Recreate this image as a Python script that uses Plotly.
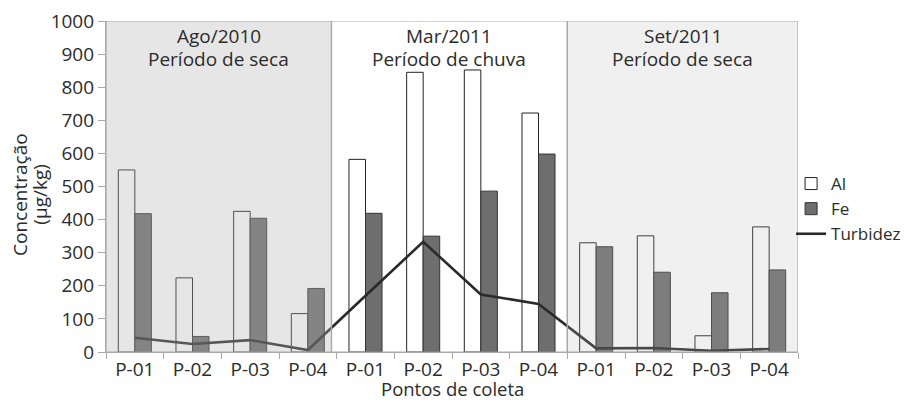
import plotly.graph_objects as go

points = ["P-01", "P-02", "P-03", "P-04"]
period_dates = ["Ago/2010", "Mar/2011", "Set/2011"]
period_names = ["Período de seca", "Período de chuva", "Período de seca"]
al = [550, 224, 425, 116, 582, 845, 852, 722, 330, 351, 49, 378]
fe = [418, 47, 404, 192, 419, 350, 486, 598, 318, 241, 179, 248]
turbidez = [43, 24, 36, 6, 170, 333, 174, 145, 11, 12, 4, 9]
y_ticks = [0, 100, 200, 300, 400, 500, 600, 700, 800, 900, 1000]
y_title = ["Concentração", "(µg/kg)"]

n = len(al)
xs = list(range(n))
labels = points * 3

FONT = "Open Sans"
TXT = "#2b2b2b"

fig = go.Figure()
fig.add_trace(go.Bar(x=xs, y=al, name="Al", marker=dict(color="white", line=dict(color="#222", width=1))))
fig.add_trace(go.Bar(x=xs, y=fe, name="Fe", marker=dict(color="#6e6e6e", line=dict(color="#333", width=1))))
fig.add_trace(go.Scatter(x=xs, y=turbidez, name="Turbidez", mode="lines",
                         line=dict(color="#2a2a2a", width=2.6)))
# invisible helper trace for the boundary tick axis
fig.add_trace(go.Scatter(x=[-0.5, n - 0.5], y=[None, None], xaxis="x2", showlegend=False,
                         hoverinfo="skip"))

# panels (semi-transparent overlays like the original)
panel_bounds = [(-0.5, 3.41), (3.41, 7.5), (7.5, n - 0.5)]
panel_fill = ["rgba(179,179,179,0.33)", "rgba(255,255,255,0)", "rgba(185,185,185,0.21)"]
for (x0, x1), fill, d, nm in zip(panel_bounds, panel_fill, period_dates, period_names):
    fig.add_shape(type="rect", xref="x", yref="y", x0=x0, x1=x1, y0=0, y1=1000,
                  fillcolor=fill, line=dict(color="#a9a9a9", width=1.2), layer="above")
    fig.add_annotation(x=(x0 + x1) / 2, y=1000, xref="x", yref="y", yanchor="middle", yshift=-15,
                       text=d, showarrow=False, font=dict(family=FONT, size=19, color=TXT))
    fig.add_annotation(x=(x0 + x1) / 2, y=1000, xref="x", yref="y", yanchor="middle", yshift=-38,
                       text=nm, showarrow=False, font=dict(family=FONT, size=19, color=TXT))

fig.add_annotation(x=0.5, y=-0.154, xref="paper", yref="paper", yanchor="bottom",
                   text="Pontos de coleta", showarrow=False, font=dict(family=FONT, size=18.5, color=TXT))
for xp, t in zip([-0.1245, -0.0945], y_title):
    fig.add_annotation(x=xp, y=0.477, xref="paper", yref="paper", xanchor="center", yanchor="middle",
                       textangle=-90, text=t, showarrow=False,
                       font=dict(family=FONT, size=19, color=TXT))

fig.update_layout(
    width=910, height=403,
    margin=dict(l=106, r=112, t=21, b=51, autoexpand=False),
    paper_bgcolor="white", plot_bgcolor="white",
    barmode="group", bargap=0.427, bargroupgap=0,
    font=dict(family=FONT, size=19, color=TXT),
    showlegend=True,
    legend=dict(x=0.99, y=0.432, xanchor="left", yanchor="middle", font=dict(size=17),
                bgcolor="rgba(0,0,0,0)", tracegroupgap=0, itemwidth=30),
    xaxis=dict(range=[-0.5, n - 0.5], tickvals=xs, ticktext=labels, ticks="", showgrid=False,
               zeroline=False, showline=True, linecolor="#a9a9a9", linewidth=1.2,
               tickfont=dict(size=19), automargin=False),
    xaxis2=dict(overlaying="x", matches="x", side="bottom", range=[-0.5, n - 0.5],
                tickvals=[i - 0.5 for i in range(n + 1)], showticklabels=False,
                ticks="outside", ticklen=6, tickcolor="#a9a9a9", showgrid=False,
                zeroline=False, showline=False, automargin=False),
    yaxis=dict(range=[0, 1000], tickvals=y_ticks, ticks="outside", ticklen=7, tickcolor="#a9a9a9",
               showgrid=False, zeroline=False, showline=True, linecolor="#a9a9a9", linewidth=1.2,
               tickfont=dict(size=19), automargin=False),
)

fig.write_html("out.html", config={"displayModeBar": False},
               post_script="document.body.style.margin='0';")
